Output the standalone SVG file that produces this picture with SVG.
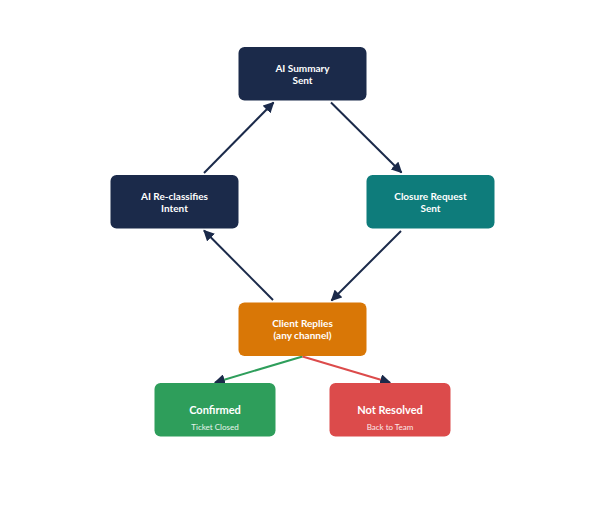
<svg xmlns="http://www.w3.org/2000/svg" width="605" height="511" viewBox="0 0 605 511">
<style>
.t{font-family:Lato,"Open Sans","Liberation Sans",sans-serif;font-weight:bold;font-size:10px;fill:#ffffff;text-anchor:middle}
.big{font-size:11px}
.sub{font-family:Lato,"Open Sans","Liberation Sans",sans-serif;font-size:8px;fill:#e8f4ec;text-anchor:middle}
.c{fill:none;stroke-width:2}
</style>
<defs>
<marker id="ah" viewBox="0 0 10 10" refX="9" refY="5" markerWidth="5.5" markerHeight="5.5" orient="auto" markerUnits="strokeWidth">
<path d="M0,0 L10,5 L0,10 z" fill="#1b2a4a"/>
</marker>
</defs>
<rect width="605" height="511" fill="#ffffff"/>
<g id="connectors">
<line class="c" x1="204" y1="173" x2="273.5" y2="102.5" stroke="#1b2a4a" marker-end="url(#ah)"/>
<line class="c" x1="331" y1="102.5" x2="401.5" y2="172.5" stroke="#1b2a4a" marker-end="url(#ah)"/>
<line class="c" x1="401" y1="231" x2="331.5" y2="300.5" stroke="#1b2a4a" marker-end="url(#ah)"/>
<line class="c" x1="273" y1="300" x2="204" y2="230.5" stroke="#1b2a4a" marker-end="url(#ah)"/>
<line class="c" x1="302.5" y1="356.5" x2="215" y2="382.5" stroke="#2e9e5b" marker-end="url(#ah)"/>
<line class="c" x1="302.5" y1="356.5" x2="390" y2="382.5" stroke="#dc4b4b" marker-end="url(#ah)"/>
</g>
<g id="ai-summary">
<rect x="238.5" y="47" width="128" height="53.5" rx="6" fill="#1b2a4a"/>
<text class="t" x="302.5" y="71.5">AI Summary</text>
<text class="t" x="302.5" y="83.5">Sent</text>
</g>
<g id="closure-request">
<rect x="366.5" y="175" width="128" height="53.5" rx="6" fill="#0e7c7b"/>
<text class="t" x="430.5" y="199.5">Closure Request</text>
<text class="t" x="430.5" y="211.5">Sent</text>
</g>
<g id="ai-reclassifies">
<rect x="110.5" y="175" width="128" height="53.5" rx="6" fill="#1b2a4a"/>
<text class="t" x="174.5" y="199.5">AI Re-classifies</text>
<text class="t" x="174.5" y="211.5">Intent</text>
</g>
<g id="client-replies">
<rect x="238.5" y="302.5" width="128" height="53.5" rx="6" fill="#d97706"/>
<text class="t" x="302.5" y="326.5">Client Replies</text>
<text class="t" x="302.5" y="338.5">(any channel)</text>
</g>
<g id="confirmed">
<rect x="154.5" y="383" width="121" height="53.5" rx="6" fill="#2e9e5b"/>
<text class="t big" x="215" y="414">Confirmed</text>
<text class="sub" x="215" y="430">Ticket Closed</text>
</g>
<g id="not-resolved">
<rect x="329.5" y="383" width="121" height="53.5" rx="6" fill="#dc4b4b"/>
<text class="t big" x="390" y="414">Not Resolved</text>
<text class="sub" x="390" y="430" style="fill:#fbe9e9">Back to Team</text>
</g>
</svg>
